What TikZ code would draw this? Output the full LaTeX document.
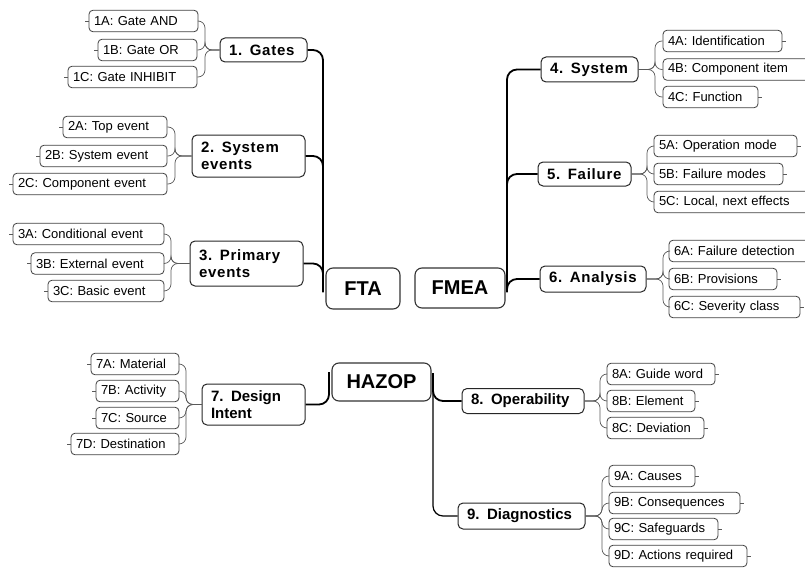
\documentclass[tikz,border=0pt]{standalone}
\usepackage{fontspec}
\setmainfont{Liberation Sans}
\usetikzlibrary{positioning,calc}

\newcommand\leaffont{\fontsize{13}{15}\selectfont}
\newcommand\topicfont{\fontsize{15}{17}\selectfont\bfseries}
\newcommand\rootfont{\fontsize{20}{22}\selectfont\bfseries}
\newcommand\spaced{\addfontfeature{LetterSpace=5}}

\tikzset{
  root/.style={draw=black!80, line width=1.1pt, rounded corners=7pt, font=\rootfont, inner sep=0pt},
  topic/.style={draw=black!85, line width=1pt, rounded corners=5pt, font=\topicfont, align=left, inner xsep=9pt, inner ysep=0pt, text width=#1},
  widetopic/.style={topic=#1, font=\topicfont\spaced},
  leaf/.style={draw=black!75, line width=0.8pt, rounded corners=4pt, font=\leaffont, align=left, inner xsep=5pt, inner ysep=0pt, minimum height=21.5pt, text width=#1},
  twig/.style={draw=black!65, line width=0.7pt, rounded corners=7pt},
  trunk/.style={draw=black, line width=1.8pt, rounded corners=10pt},
  nub/.style={draw=black!65, line width=0.6pt},
}

\begin{document}
\begin{tikzpicture}[x=1pt, y=-1pt]
\useasboundingbox (0,0) rectangle (805,567);

% central topics
\node[root, minimum width=74pt, minimum height=41pt] (fta) at (363,288.5) {FTA};
\node[root, minimum width=90pt, minimum height=40pt] (fmea) at (460,288) {FMEA};
\node[root, minimum width=99pt, minimum height=38pt] (hazop) at (381.5,382) {HAZOP};

% main branches
\node[widetopic=69pt, minimum height=24pt] (g1) at (263.5,50) {1. Gates};
\node[widetopic=95pt, minimum height=42pt] (g2) at (248.5,156) {2. System\\events};
\node[widetopic=95pt, minimum height=45pt] (g3) at (246.5,263.5) {3. Primary\\events};
\node[widetopic=79pt, minimum height=25pt] (f4) at (589.5,69.5) {4. System};
\node[widetopic=75pt, minimum height=24pt] (f5) at (584.5,174) {5. Failure};
\node[widetopic=88pt, minimum height=26pt] (f6) at (593,279) {6. Analysis};
\node[topic=85pt, minimum height=41pt] (h7) at (253.5,404.5) {7. Design\\Intent};
\node[topic=104pt, minimum height=25pt] (h8) at (523,401) {8. Operability};
\node[topic=109pt, minimum height=26pt] (h9) at (521.5,516) {9. Diagnostics};

% sub topics on the left
\foreach \nm/\l/\r/\y/\txt in {
  a1/89/198/21/{1A: Gate AND},
  a2/98/197/50/{1B: Gate OR},
  a3/68/197/77/{1C: Gate INHIBIT},
  b1/63/167/127/{2A: Top event},
  b2/40/167/156/{2B: System event},
  b3/13/167/184/{2C: Component event},
  c1/13/164/234/{3A: Conditional event},
  c2/31/164/263.5/{3B: External event},
  c3/48/164/291/{3C: Basic event},
  d1/91/179/364/{7A: Material},
  d2/96/179/391/{7B: Activity},
  d3/96/179/418/{7C: Source},
  d4/71/179/444/{7D: Destination}}
{
  \pgfmathsetmacro\tw{\r-\l-10}
  \node[leaf=\tw pt] (\nm) at ({(\l+\r)/2},\y) {\txt};
  \draw[nub] (\nm.west) -- ++(-4,0);
}

% sub topics on the right
\foreach \nm/\l/\r/\y/\txt in {
  e1/663/782/41/{4A: Identification},
  e2/663/815/69.5/{4B: Component item},
  e3/663/758/97/{4C: Function},
  k1/654/797/146/{5A: Operation mode},
  k2/654/783/174/{5B: Failure modes},
  k3/654/815/202/{5C: Local, next effects},
  m1/669/815/251/{6A: Failure detection},
  m2/669/777/279/{6B: Provisions},
  m3/669/800/307/{6C: Severity class},
  p1/607/715/374/{8A: Guide word},
  p2/607/695/401/{8B: Element},
  p3/607/704/428/{8C: Deviation},
  q1/609/695/476/{9A: Causes},
  q2/609/740/503/{9B: Consequences},
  q3/609/718/529/{9C: Safeguards},
  q4/609/747/556/{9D: Actions required}}
{
  \pgfmathsetmacro\tw{\r-\l-10}
  \node[leaf=\tw pt] (\nm) at ({(\l+\r)/2},\y) {\txt};
  \draw[nub] (\nm.east) -- ++(4,0);
}

% brace junctions
\coordinate (j1) at (205,50);
\coordinate (j2) at (175,156);
\coordinate (j3) at (171,263.5);
\coordinate (j7) at (186,404.5);
\coordinate (j4) at (655,69.5);
\coordinate (j5) at (647,174);
\coordinate (j6) at (663,279);
\coordinate (j8) at (600,401);
\coordinate (j9) at (602,516);

\foreach \p/\j/\nm in {g1/j1/a1, g1/j1/a2, g1/j1/a3, g2/j2/b1, g2/j2/b2, g2/j2/b3,
  g3/j3/c1, g3/j3/c2, g3/j3/c3, h7/j7/d1, h7/j7/d2, h7/j7/d3, h7/j7/d4}
  \draw[twig] (\p.west) -- (\j) |- (\nm.east);

\foreach \p/\j/\nm in {f4/j4/e1, f4/j4/e2, f4/j4/e3, f5/j5/k1, f5/j5/k2, f5/j5/k3,
  f6/j6/m1, f6/j6/m2, f6/j6/m3, h8/j8/p1, h8/j8/p2, h8/j8/p3,
  h9/j9/q1, h9/j9/q2, h9/j9/q3, h9/j9/q4}
  \draw[twig] (\p.east) -- (\j) |- (\nm.west);

% trunks
\coordinate (ftaRoot) at (323,292);
\coordinate (fmeaRoot) at (507,292);
\coordinate (hzLeft) at (329,372);
\coordinate (hzRight) at (433,373);

\foreach \p in {g1,g2,g3}
  \draw[trunk] (\p.east) -| (ftaRoot);
\foreach \p in {f4,f5,f6}
  \draw[trunk] (fmeaRoot) |- (\p.west);
\draw[trunk] (hzLeft) |- (h7.east);
\draw[trunk] (hzRight) |- (h8.west);
\draw[trunk, line width=1.2pt] (hzRight) |- (h9.west);
\end{tikzpicture}
\end{document}
